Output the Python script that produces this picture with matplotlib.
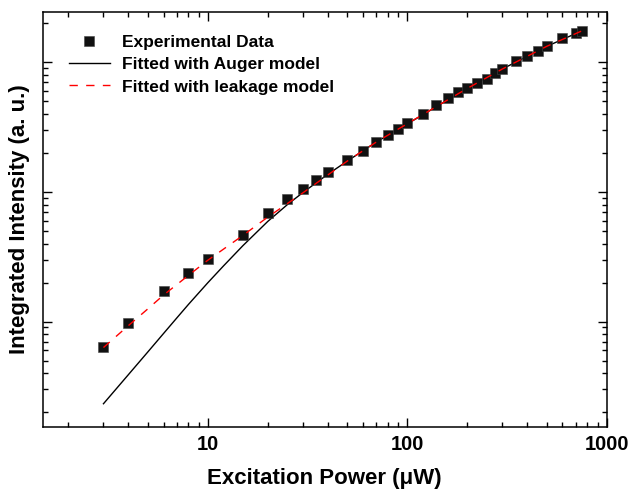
import numpy as np
import matplotlib
matplotlib.use('Agg')
import matplotlib.pyplot as plt
from matplotlib.ticker import LogLocator, NullFormatter, FixedLocator, FixedFormatter

# Experimental data (power in uW, intensity in a.u.)
power = [3, 4, 6, 8, 10, 15, 20, 25, 30, 35, 40, 50, 60, 70, 80, 90, 100,
         120, 140, 160, 180, 200, 225, 250, 275, 300, 350, 400, 450, 500,
         600, 700, 750]
intensity = [0.635, 0.98, 1.72, 2.37, 3.03, 4.66, 6.89, 8.78, 10.6, 12.3,
             14.3, 17.6, 20.9, 24.3, 27.5, 30.7, 33.9,
             40.1, 46.6, 52.8, 59.3, 63.4, 69.6, 74.8, 82.3, 88.3,
             102.4, 111.9, 122.3, 134.3, 153.1, 168.2, 175.3]

# Fitted curves
auger_p = [3, 3.5, 4, 5, 6, 7, 8, 10, 12, 15, 20, 25, 30, 40, 50, 70, 100,
           150, 200, 300, 500, 750]
auger_i = [0.232, 0.306, 0.389, 0.581, 0.808, 1.067, 1.355, 1.99, 2.69, 3.85,
           5.93, 7.96, 9.91, 13.7, 17.3, 24.3, 33.5, 48.5, 63, 89, 133, 175]

leak_p = [3, 4, 5, 6, 8, 10, 15, 20, 30, 50, 70, 100, 150, 200, 300, 500, 750]
leak_i = [0.63, 0.93, 1.25, 1.6, 2.27, 2.97, 4.62, 6.4, 9.85, 17.3, 24.3,
          33.6, 48.6, 63, 89, 133, 175]

plt.rcParams['font.family'] = ['Liberation Sans', 'DejaVu Sans']
plt.rcParams['font.weight'] = 'bold'

fig = plt.figure(figsize=(6.3, 4.9), dpi=100)
ax = fig.add_axes([0.068, 0.129, 0.895, 0.8465])

ax.plot(power, intensity, 's', color='#111111', markersize=6.8,
        markeredgewidth=0.4, markeredgecolor='#444444', label='Experimental Data',
        zorder=3)
ax.plot(auger_p, auger_i, '-', color='black', lw=1.0,
        label='Fitted with Auger model', zorder=2)
ax.plot(leak_p, leak_i, color='red', lw=1.0, linestyle=(0, (6, 6)),
        label='Fitted with leakage model', zorder=4)

ax.set_xscale('log')
ax.set_yscale('log')
ax.set_xlim(1.49, 1000)
ax.set_ylim(0.154, 245)

ax.xaxis.set_major_locator(FixedLocator([10, 100, 1000]))
ax.xaxis.set_major_formatter(FixedFormatter(['10', '100', '1000']))
ax.xaxis.set_minor_locator(LogLocator(base=10, subs=np.arange(2, 10)))
ax.xaxis.set_minor_formatter(NullFormatter())
ax.yaxis.set_major_locator(LogLocator(base=10))
ax.yaxis.set_minor_locator(LogLocator(base=10, subs=np.arange(2, 10)))
ax.yaxis.set_major_formatter(NullFormatter())
ax.yaxis.set_minor_formatter(NullFormatter())

ax.tick_params(which='both', direction='in', top=True, right=True, width=1.0)
ax.tick_params(which='major', length=6.5, labelsize=14.5, pad=6)
ax.tick_params(which='minor', length=3.5)
for s in ax.spines.values():
    s.set_linewidth(1.1)

ax.set_xlabel('Excitation Power (\u03bcW)', fontsize=16, fontweight='bold',
              labelpad=10)
ax.set_ylabel('Integrated Intensity (a. u.)', fontsize=16, fontweight='bold',
              labelpad=3)

ax.legend(loc='upper left', bbox_to_anchor=(0.025, 0.975), frameon=False,
          handlelength=2.35, handletextpad=0.7, labelspacing=0.42,
          borderaxespad=0.3, prop={'weight': 'bold', 'size': 12.5})

fig.savefig('out.png', dpi=100)
